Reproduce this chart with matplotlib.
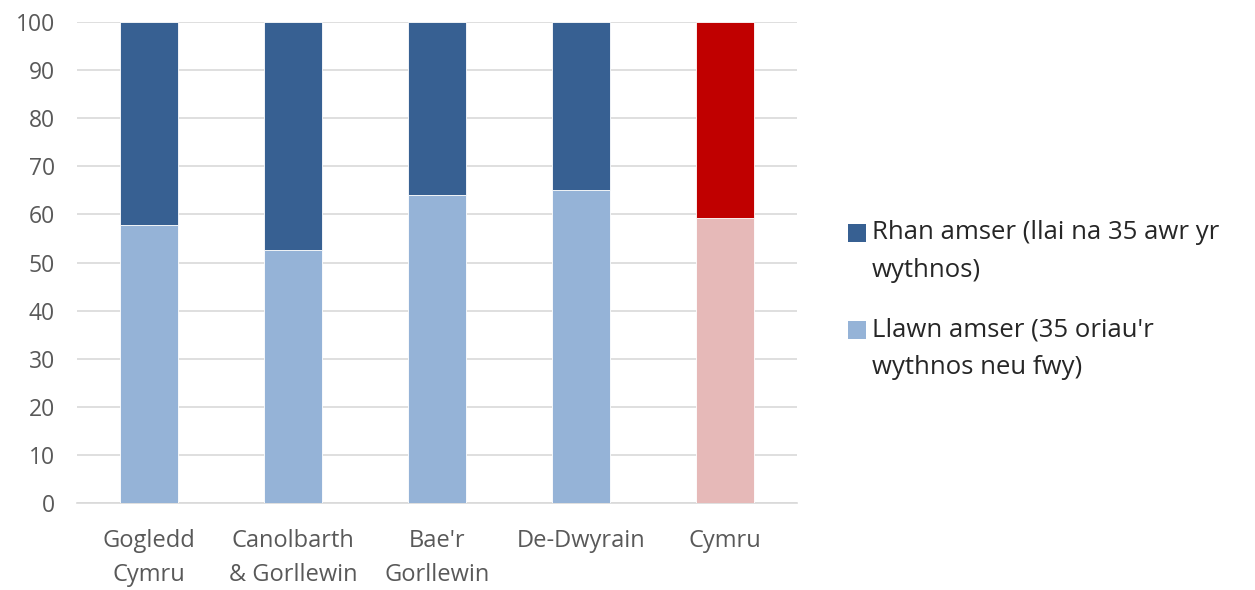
import matplotlib
matplotlib.use("Agg")
import matplotlib.pyplot as plt
import numpy as np
from matplotlib.patches import Rectangle

plt.rcParams['font.family'] = ['Open Sans', 'DejaVu Sans']

categories = ["Gogledd\nCymru", "Canolbarth\n& Gorllewin", "Bae'r\nGorllewin", "De-Dwyrain", "Cymru"]
full_time = [57.8, 52.7, 64.0, 65.0, 59.3]
part_time = [100 - v for v in full_time]

full_colors = ["#95B3D7", "#95B3D7", "#95B3D7", "#95B3D7", "#E6B9B8"]
part_colors = ["#376092", "#376092", "#376092", "#376092", "#C00000"]

legend_labels = ["Rhan amser (llai na 35 awr yr\nwythnos)", "Llawn amser (35 oriau'r\nwythnos neu fwy)"]
legend_colors = ["#376092", "#95B3D7"]

W, H = 1255, 590
fig = plt.figure(figsize=(W / 100, H / 100), dpi=100)
ax = fig.add_axes([77/W, 1 - 503/H, 720/W, 481/H])

x = np.arange(len(categories))
ax.bar(x, full_time, width=0.4, color=full_colors, edgecolor="white", linewidth=0.6, zorder=3)
ax.bar(x, part_time, width=0.4, bottom=full_time, color=part_colors, edgecolor="white", linewidth=0.6, zorder=3)

ax.set_xlim(-0.5, len(categories) - 0.5)
ax.set_ylim(0, 100)
ax.set_yticks(np.arange(0, 101, 10))
ax.grid(axis="y", color="#D9D9D9", linewidth=1.2, zorder=0)
for s in ["top", "right", "left"]:
    ax.spines[s].set_visible(False)
ax.spines["bottom"].set_color("#D9D9D9")
ax.spines["bottom"].set_linewidth(1.2)
ax.tick_params(axis="both", length=0, labelcolor="#595959")
ax.tick_params(axis="y", pad=16, labelsize=16.5)
ax.tick_params(axis="x", pad=19, labelsize=17)
ax.set_xticks(x)
ax.set_xticklabels(categories, linespacing=1.55)

# Legend: square keys aligned with the first line of each two-line label
key = 18
for i, (label, color) in enumerate(zip(legend_labels, legend_colors)):
    yc = 233 + i * 97
    fig.patches.append(Rectangle((848 / W, 1 - (yc + key / 2) / H), key / W, key / H,
                                 transform=fig.transFigure, facecolor=color, edgecolor="none"))
    fig.text(872 / W, 1 - (yc + 18.5) / H, label, fontsize=18.5, color="#262626",
             va="center", ha="left", linespacing=1.68)

fig.savefig("out.png", dpi=100)
